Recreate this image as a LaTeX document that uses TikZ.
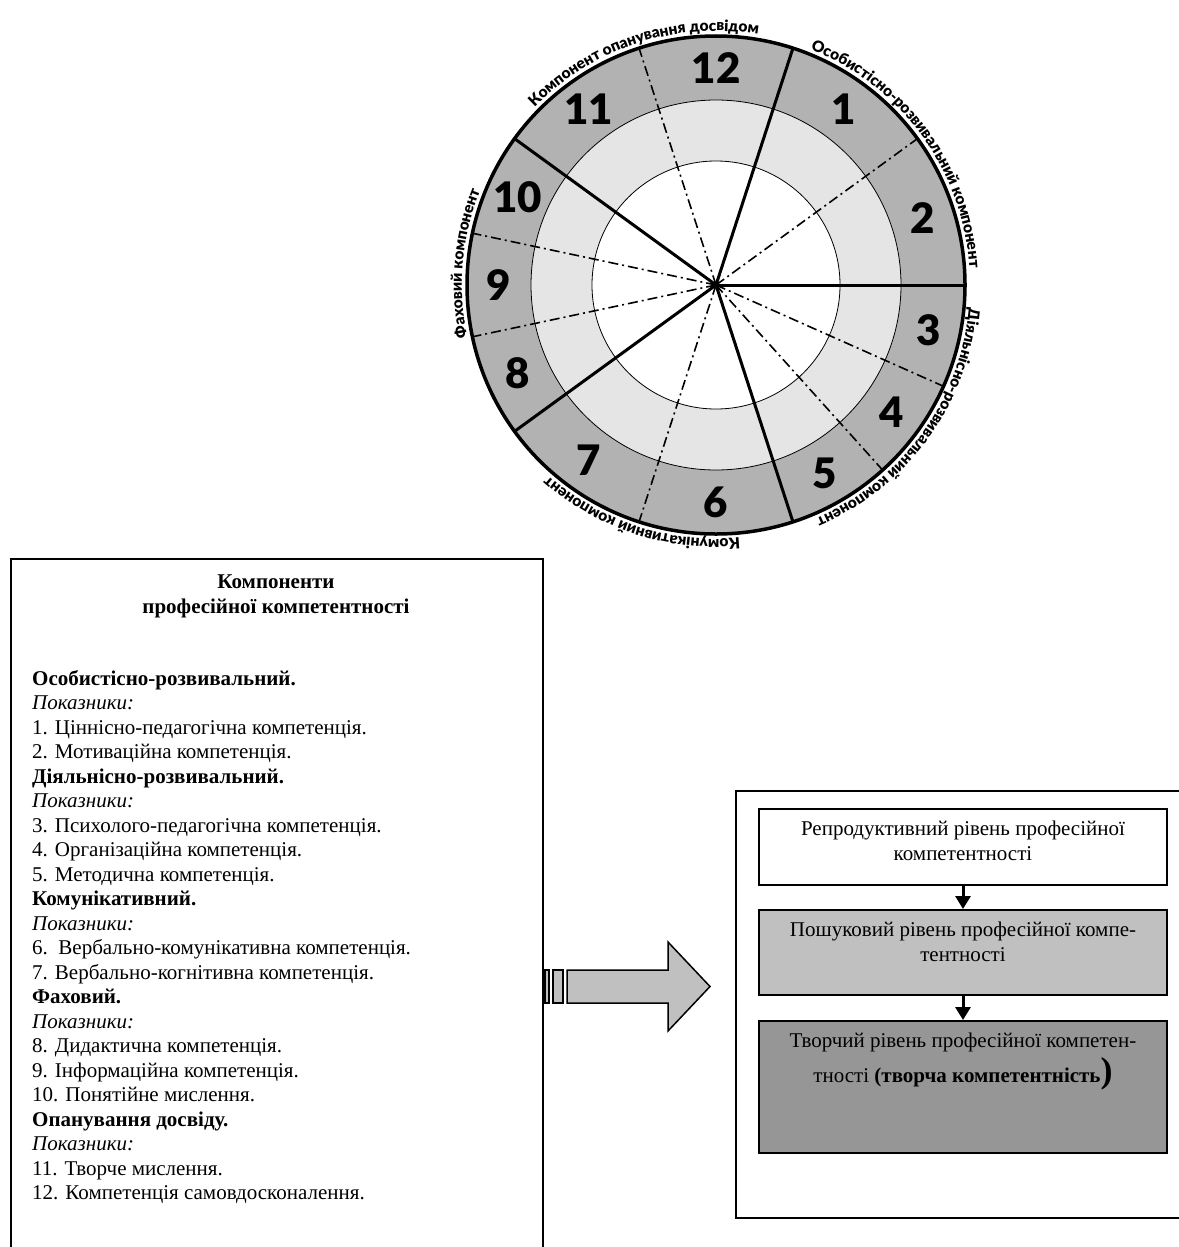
\documentclass[tikz,border=0pt]{standalone}
\usepackage{fontspec}
\setmainfont{Liberation Serif}
\IfFontExistsTF{Open Sans ExtraBold}{%
  \newfontfamily\heavyfont{Open Sans ExtraBold}\newcommand\heavy{\heavyfont}}{%
  \IfFontExistsTF{Lato Black}{%
    \newfontfamily\heavyfont{Lato Black}\newcommand\heavy{\heavyfont}}{%
    \newfontfamily\heavyfont{Open Sans}\newcommand\heavy{\heavyfont\bfseries}}}
\usetikzlibrary{decorations.text, arrows.meta}

\definecolor{ringdark}{RGB}{178,178,178}
\definecolor{ringlight}{RGB}{229,229,229}
\definecolor{searchgrey}{RGB}{192,192,192}
\definecolor{creativegrey}{RGB}{150,150,150}
\newcommand\labfont{\heavy\fontsize{15.5}{15.5}\selectfont}

\begin{document}
\begin{tikzpicture}[x=1pt, y=1pt,
  num/.style={font=\heavy\fontsize{42}{42}\selectfont, inner sep=0pt},
  spoke/.style={line width=3pt},
  subspoke/.style={line width=1.6pt, dash pattern=on 10pt off 4pt on 2pt off 4pt},
  ringlabel/.style={decorate, decoration={text along path, text align=center, text={|\labfont|#1}}},
  levelbox/.style={draw, line width=2pt, minimum width=408pt},
  leveltext/.style={align=center, font=\fontsize{21}{24.3}\selectfont, inner sep=0pt},
  lvlarrow/.style={line width=3pt, -{Triangle[width=15pt, length=13pt]}},
  bodytext/.style={align=left, font=\fontsize{21}{24.5}\selectfont, inner sep=0pt}]

  \useasboundingbox (0,0) rectangle (1178,-1247);

  % Circle of components
  \begin{scope}[shift={(716,-285)}]
    \fill[ringdark] (0,0) circle[radius=249];
    \fill[ringlight] (0,0) circle[radius=185];
    \fill[white] (0,0) circle[radius=124];
    \draw[line width=0.8pt] (0,0) circle[radius=185] (0,0) circle[radius=124];

    % dash-dot lines inside components
    \foreach \a in {36,-24,-48,252,168,192,108}
      \draw[subspoke] (0,0) -- (\a:249);
    % borders of components
    \foreach \a in {0,72,144,216,288}
      \draw[spoke] (0,0) -- (\a:249);
    \draw[line width=3.5pt] (0,0) circle[radius=249];

    % numbers
    \foreach \n/\a in {1/54,2/18,3/-12,4/-36,5/-60,6/-90,7/234,8/204,9/180,10/156,11/126,12/90}
      \node[num] (n\n) at (\a:217) {\n};

    % names round the circle
    \path[ringlabel={Компонент опанування досвідом}] (178:254) arc[start angle=178, end angle=38, radius=254];
    \path[ringlabel={Особистісно-розвивальний компонент}] (106:254) arc[start angle=106, end angle=-34, radius=254];
    \path[ringlabel={Діяльнісно-розвивальний компонент}] (34:254) arc[start angle=34, end angle=-106, radius=254];
    \path[ringlabel={Комунікативний компонент}] (322:254) arc[start angle=322, end angle=182, radius=254];
    \path[ringlabel={Фаховий компонент}] (245:254) arc[start angle=245, end angle=105, radius=254];
  \end{scope}

  % Left box
  \node[draw, line width=2pt, minimum width=532pt, minimum height=720pt, anchor=north west] (lbox) at (10,-558) {};
  \node[align=center, font=\bfseries\fontsize{21}{25}\selectfont] (ltitle) at (276,-596) {Компоненти\\професійної компетентності};
  \node[bodytext, anchor=north west] (lbody) at (32,-670) {%
    \textbf{Особистісно-розвивальний.}\\
    \textit{Показники:}\\
    1. Ціннісно-педагогічна компетенція.\\
    2. Мотиваційна компетенція.\\
    \textbf{Діяльнісно-розвивальний.}\\
    \textit{Показники:}\\
    3. Психолого-педагогічна компетенція.\\
    4. Організаційна компетенція.\\
    5. Методична компетенція.\\
    \textbf{Комунікативний.}\\
    \textit{Показники:}\\
    6.\ \ Вербально-комунікативна компетенція.\\
    7. Вербально-когнітивна компетенція.\\
    \textbf{Фаховий.}\\
    \textit{Показники:}\\
    8. Дидактична компетенція.\\
    9. Інформаційна компетенція.\\
    10. Понятійне мислення.\\
    \textbf{Опанування досвіду.}\\
    \textit{Показники:}\\
    11. Творче мислення.\\
    12. Компетенція самовдосконалення.};

  % Block arrow
  \draw[line width=1.5pt, fill=searchgrey] (545,-970) rectangle (549,-1003);
  \draw[line width=1.5pt, fill=searchgrey] (553,-970) rectangle (563,-1003);
  \draw[line width=1.5pt, fill=searchgrey] (567,-970) -- (668,-970) -- (668,-942) -- (710,-986.5)
    -- (668,-1031) -- (668,-1003) -- (567,-1003) -- cycle;

  % Right box with levels
  \node[draw, line width=2pt, minimum width=470pt, minimum height=427pt, anchor=north west] (rbox) at (735,-790) {};
  \node[levelbox, minimum height=76pt, anchor=north, fill=white] (R1) at (963,-808) {};
  \node[levelbox, minimum height=85pt, fill=searchgrey, node distance=105.5pt, below of=R1] (R2) {};
  \node[levelbox, minimum height=132pt, fill=creativegrey, node distance=134.5pt, below of=R2] (R3) {};

  \node[leveltext, below=13pt] (T1) at (R1.north) {Репродуктивний рівень професійної\\компетентності};
  \node[leveltext, below=13pt] (T2) at (R2.north) {Пошуковий рівень професійної компе-\\тентності};
  \node[leveltext, below=13pt] (T3) at (R3.north) {Творчий рівень професійної компетен-\\[4pt]тності \textbf{(творча компетентність}{\fontsize{36}{36}\selectfont\textbf{)}}};

  % arrows between levels
  \draw[lvlarrow] (R1) -- (R2);
  \draw[lvlarrow] (R2) -- (R3);

\end{tikzpicture}
\end{document}
